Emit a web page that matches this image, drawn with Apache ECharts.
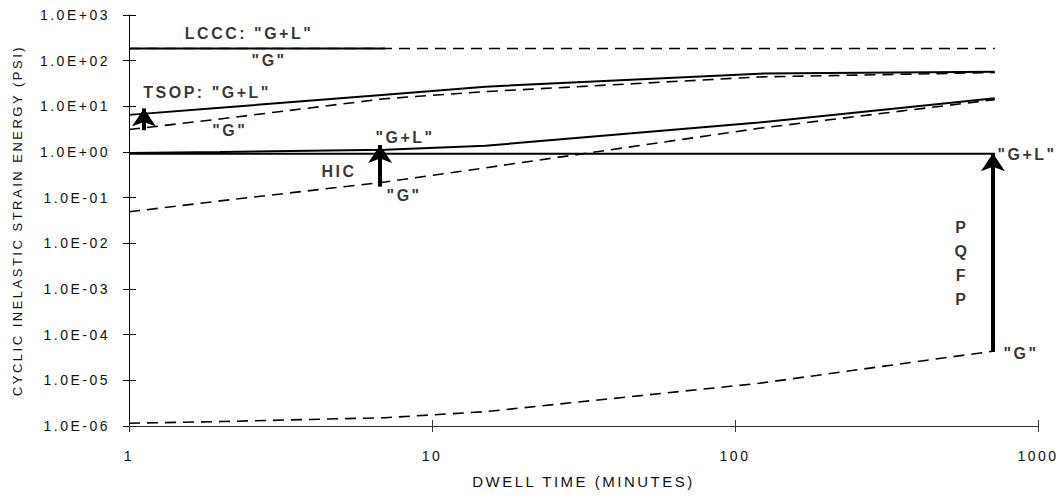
<!DOCTYPE html>
<html>
<head>
<meta charset="utf-8">
<script src="https://cdn.jsdelivr.net/npm/echarts@6/dist/echarts.min.js"></script>
<style>
  html, body { margin: 0; padding: 0; background: #fff; }
  #chart { width: 1063px; height: 497px; }
  /* old postscript look: wide letter spacing everywhere */
  #chart text { letter-spacing: 2.5px; }
</style>
</head>
<body>
<div id="chart"></div>
<script>
// dwell time (minutes)
const dwell = [1, 2, 7, 15, 120, 720]

// cyclic inelastic strain energy (psi)
const lcccGL = [185, 185, 185, null, null, null]
const lcccG = [185, 185, 185, 185, 185, 185]
const tsopGL = [6.5, 9.3, 18, 27, 52, 57]
const tsopG = [3.1, 5.3, 14.7, 21, 44, 55]
const hicGL = [0.95, 1.0, 1.12, 1.37, 4.4, 15]
const hicG = [0.049, 0.085, 0.22, 0.45, 3.3, 14]
const pqfpGL = [0.92, 0.92, 0.92, 0.92, 0.92, 0.92]
const pqfpG = [1.15e-6, 1.25e-6, 1.52e-6, 2.06e-6, 8.6e-6, 4.4e-5]

const xTickLabels = ['1', '10', '100', '1000']
const yTickLabels = ['1.0E-06', '1.0E-05', '1.0E-04', '1.0E-03', '1.0E-02',
  '1.0E-01', '1.0E+00', '1.0E+01', '1.0E+02', '1.0E+03']

// arrows: [dwell, from, to]
const arrows = [
  [1.12, 3.0, 9.0],
  [6.74, 0.174, 1.42],
  [710, 4.3e-5, 0.935]
]

// annotation texts: [dwell, energy, text]
const notes = [
  [2.49, 403, 'LCCC: "G+L"'],
  [2.9, 103, '"G"'],
  [1.81, 19.6, 'TSOP: "G+L"'],
  [2.15, 3.03, '"G"'],
  [4.93, 0.365, 'HIC'],
  [8.15, 2.13, '"G+L"'],
  [8.09, 0.109, '"G"'],
  [920, 0.904, '"G+L"'],
  [561, 0.00353, 'P\nQ\nF\nP'],
  [879, 3.78e-5, '"G"']
]

const FONT = "'Liberation Sans', Arial, sans-serif"

const pairs = (ys) => dwell.map((x, i) => [x, ys[i]]).filter((p) => p[1] != null)

const curve = (ys, dashed) => ({
  type: 'line',
  data: pairs(ys),
  symbol: 'none',
  silent: true,
  z: dashed ? 3 : 4,
  lineStyle: {
    color: '#000',
    width: dashed ? 1.6 : 2,
    type: dashed ? [11, 7] : 'solid'
  }
})

const logAxis = (min, max, extra) => Object.assign({
  type: 'log',
  logBase: 10,
  min: min,
  max: max,
  interval: 1,
  splitLine: { show: false },
  minorTick: { show: false }
}, extra)

const myChart = echarts.init(document.getElementById('chart'), null, { renderer: 'svg' })

const option = {
  animation: false,
  grid: { left: 129, right: 25, top: 15, bottom: 71, containLabel: false },
  xAxis: [
    logAxis(1, 1000, {
      position: 'bottom',
      name: 'DWELL TIME (MINUTES)',
      nameLocation: 'middle',
      nameGap: 48,
      nameTextStyle: { fontFamily: FONT, fontSize: 15, color: '#111' },
      axisLine: { lineStyle: { color: '#333', width: 1 } },
      axisTick: { inside: false, length: 6, lineStyle: { color: '#333' } },
      axisLabel: {
        margin: 23,
        fontFamily: FONT,
        fontSize: 14,
        color: '#111',
        formatter: (v) => xTickLabels[Math.round(Math.log10(v))]
      }
    }),
    logAxis(1, 1000, {
      position: 'bottom',
      axisLine: { show: false },
      axisTick: { inside: true, length: 6, lineStyle: { color: '#333' } },
      axisLabel: { show: false }
    })
  ],
  yAxis: [
    logAxis(1e-6, 1e3, {
      position: 'left',
      name: 'CYCLIC INELASTIC STRAIN ENERGY (PSI)',
      nameLocation: 'middle',
      nameGap: 105,
      nameRotate: 90,
      nameTextStyle: { fontFamily: FONT, fontSize: 13, color: '#111' },
      axisLine: { lineStyle: { color: '#000', width: 1 } },
      axisTick: { inside: false, length: 6, lineStyle: { color: '#000' } },
      axisLabel: {
        margin: 19,
        fontFamily: FONT,
        fontSize: 14,
        color: '#111',
        formatter: (v) => yTickLabels[Math.round(Math.log10(v)) + 6]
      }
    }),
    logAxis(1e-6, 1e3, {
      position: 'left',
      offset: 0,
      axisLine: { show: false },
      axisTick: { inside: true, length: 7, lineStyle: { color: '#000' } },
      axisLabel: { show: false }
    })
  ],
  series: [
    curve(lcccG, true),
    curve(lcccGL, false),
    curve(tsopG, true),
    curve(tsopGL, false),
    curve(hicG, true),
    curve(hicGL, false),
    curve(pqfpG, true),
    curve(pqfpGL, false),
    {
      type: 'lines',
      coordinateSystem: 'cartesian2d',
      silent: true,
      z: 6,
      symbol: ['none', 'arrow'],
      symbolSize: [11, 18],
      lineStyle: { color: '#000', width: 4, opacity: 1 },
      data: arrows.map((a) => ({ coords: [[a[0], a[1]], [a[0], a[2]]] }))
    },
    {
      type: 'scatter',
      silent: true,
      z: 7,
      symbol: 'circle',
      symbolSize: 1,
      itemStyle: { color: 'rgba(0,0,0,0)' },
      label: {
        show: true,
        position: 'inside',
        formatter: '{b}',
        fontFamily: FONT,
        fontWeight: 'bold',
        fontSize: 16,
        lineHeight: 24,
        color: '#000'
      },
      labelLayout: { hideOverlap: false },
      data: notes.map((n) => ({ value: [n[0], n[1]], name: n[2] }))
    }
  ]
}

myChart.setOption(option)
</script>
</body>
</html>
